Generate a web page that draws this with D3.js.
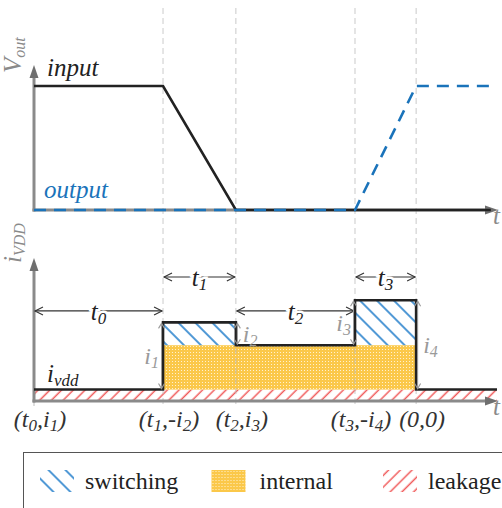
<!DOCTYPE html>
<html>
<head>
<meta charset="utf-8">
<script src="https://cdn.jsdelivr.net/npm/d3@7"></script>
<style>
  body { margin: 0; background: #fff; }
  svg { display: block; }
  svg text, svg tspan { font-family: 'Liberation Serif', 'Tinos', serif !important; }
</style>
</head>
<body>
<svg id="chart" width="502" height="508"></svg>
<script>
// time axis (arbitrary units)
var eventTimes = [0, 2.09, 3.27, 5.2, 6.19];
var tMax = 7.5;
var tickLabels = ["(t_0,i_1)", "(t_1,-i_2)", "(t_2,i_3)", "(t_3,-i_4)", "(0,0)"];

// top panel: voltages, 0..1
var inputWave = [[0, 1], [2.09, 1], [3.27, 0], [7.4, 0]];
var outputWave = [[0, 0], [5.2, 0], [6.19, 1], [7.4, 1]];

// bottom panel: supply current
var ivddSteps = [[0, 0.8], [2.09, 5.5], [3.27, 3.9], [5.2, 7.05], [6.19, 0.8], [7.5, 0.8]];
var leakageLevel = 0.8;
var internalSpan = [2.09, 6.19, 3.9];             // from, to, top
var switchingBlocks = [[2.09, 3.27, 5.5], [5.2, 6.19, 7.05]];  // from, to, peak
var spanArrows = [
  {label: "t_0", from: 0, to: 2.09, level: 6.3},
  {label: "t_1", from: 2.09, to: 3.27, level: 8.67},
  {label: "t_2", from: 3.27, to: 5.2, level: 6.3},
  {label: "t_3", from: 5.2, to: 6.19, level: 8.67}
];
var deltaArrows = [
  {label: "i_1", t: 2.09, lo: 0.8, hi: 5.5, side: "left"},
  {label: "i_2", t: 3.27, lo: 3.9, hi: 5.5, side: "right"},
  {label: "i_3", t: 5.2, lo: 3.9, hi: 7.05, side: "left"},
  {label: "i_4", t: 6.19, lo: 0.8, hi: 7.05, side: "right"}
];
var legendItems = [
  {name: "switching", fill: "url(#pSwitch)"},
  {name: "internal", fill: "url(#pInternal)"},
  {name: "leakage", fill: "url(#pLeak)"}
];

var svg = d3.select("#chart");
var axisGray = "#8a8a8a", headGray = "#6f6f6f";

var x = d3.scaleLinear().domain([0, tMax]).range([34, 497]);
var yV = d3.scaleLinear().domain([0, 1]).range([210, 86]);
var yI = d3.scaleLinear().domain([0, 10]).range([401, 258]);

// patterns
var defs = svg.append("defs");
var ps = defs.append("pattern").attr("id", "pSwitch")
    .attr("patternUnits", "userSpaceOnUse").attr("width", 12).attr("height", 12)
    .attr("patternTransform", "rotate(-45)");
ps.append("line").attr("x1", 6).attr("y1", 0).attr("x2", 6).attr("y2", 12)
    .attr("stroke", "#3f8fd2").attr("stroke-width", 1.8);
var pi = defs.append("pattern").attr("id", "pInternal")
    .attr("patternUnits", "userSpaceOnUse").attr("width", 3).attr("height", 3);
pi.append("rect").attr("width", 3).attr("height", 3).attr("fill", "#fbc84a");
pi.append("rect").attr("x", 1).attr("y", 1).attr("width", 1).attr("height", 1).attr("fill", "#fff1cf");
var pl = defs.append("pattern").attr("id", "pLeak")
    .attr("patternUnits", "userSpaceOnUse").attr("width", 8.3).attr("height", 8.3)
    .attr("patternTransform", "rotate(45)");
pl.append("line").attr("x1", 4).attr("y1", 0).attr("x2", 4).attr("y2", 8.3)
    .attr("stroke", "#f05a5a").attr("stroke-width", 1.5);

function marker(id, color, len, half) {
  defs.append("marker").attr("id", id)
      .attr("viewBox", "-1 -6 12 12").attr("refX", len).attr("refY", 0)
      .attr("markerUnits", "userSpaceOnUse")
      .attr("markerWidth", 12).attr("markerHeight", 12)
      .attr("orient", "auto-start-reverse")
    .append("path")
      .attr("d", "M0," + (-half) + "L" + len + ",0L0," + half)
      .attr("fill", "none").attr("stroke", color).attr("stroke-width", 1.1);
}
marker("mSpan", "#333", 8, 4);
marker("mDelta", "#9a9a9a", 5, 3);

function mathText(t, str, sub) {
  var parts = str.split(/_(\w+)/);
  var shift = 0;
  parts.forEach(function(p, i) {
    if (!p) return;
    var ts = t.append("tspan").text(p);
    if (i % 2) { ts.style("font-size", sub + "px").attr("dy", 4 - shift); shift = 4; }
    else { ts.attr("dy", -shift); shift = 0; }
  });
  return t;
}

function label(px, py, size, color, italic) {
  return svg.append("text").attr("x", px).attr("y", py)
      .style("font-size", size + "px")
      .style("font-style", italic ? "italic" : "normal").attr("fill", color);
}

function arrowHead(cx, cy, dir) {
  // filled triangle, dir "up" or "right", tip at (cx,cy)
  var p = dir === "up"
    ? [[cx, cy], [cx - 4.5, cy + 13], [cx + 4.5, cy + 13]]
    : [[cx, cy], [cx - 13, cy - 4.5], [cx - 13, cy + 4.5]];
  svg.append("path").attr("d", "M" + p.join("L") + "Z").attr("fill", headGray);
}

// ---- bottom panel fills ----
svg.append("rect")
    .attr("x", x(0)).attr("width", x(tMax) - x(0))
    .attr("y", yI(leakageLevel)).attr("height", yI(0) - yI(leakageLevel))
    .attr("fill", "url(#pLeak)");
svg.append("rect")
    .attr("x", x(internalSpan[0])).attr("width", x(internalSpan[1]) - x(internalSpan[0]))
    .attr("y", yI(internalSpan[2])).attr("height", yI(leakageLevel) - yI(internalSpan[2]))
    .attr("fill", "url(#pInternal)");
svg.selectAll(".sw").data(switchingBlocks).enter().append("rect")
    .attr("class", "sw")
    .attr("x", d => x(d[0])).attr("width", d => x(d[1]) - x(d[0]))
    .attr("y", d => yI(d[2])).attr("height", d => yI(internalSpan[2]) - yI(d[2]))
    .attr("fill", "url(#pSwitch)");

// ---- guides ----
svg.selectAll(".guide").data(eventTimes.slice(1)).enter().append("line")
    .attr("class", "guide")
    .attr("x1", d => x(d)).attr("x2", d => x(d))
    .attr("y1", 8).attr("y2", 405)
    .attr("stroke", "#bdbdbd").attr("stroke-opacity", 0.8)
    .attr("stroke-width", 1).attr("stroke-dasharray", "6,4");
svg.append("line").attr("x1", x(0)).attr("x2", x(0)).attr("y1", yI(0)).attr("y2", 406)
    .attr("stroke", "#bdbdbd").attr("stroke-width", 1);

// ---- axes ----
[[yV, 1.17, "V_out", 8], [yI, 10, "i_VDD", 5]].forEach(function(a) {
  var sc = a[0];
  svg.append("line").attr("x1", x(0)).attr("x2", x(0))
      .attr("y1", sc(0) + 1.5).attr("y2", sc(a[1]) + 10)
      .attr("stroke", axisGray).attr("stroke-width", 3);
  arrowHead(x(0), sc(a[1]), "up");
  svg.append("line").attr("x1", x(0) - 1.5).attr("x2", x(tMax) - 8)
      .attr("y1", sc(0)).attr("y2", sc(0))
      .attr("stroke", axisGray).attr("stroke-width", 3);
  arrowHead(x(tMax) + 1, sc(0), "right");
  label(x(tMax) - 4, sc(0) + 14, 25, "#8a8a8a", true).text("t");
  mathText(label(0, 0, 25, "#8a8a8a", true)
      .attr("transform", "translate(21," + (sc(a[1]) + a[3]) + ") rotate(-90)"), a[2], 16);
});

// ---- top panel waves ----
var lineV = d3.line().x(d => x(d[0])).y(d => yV(d[1]));
svg.append("path").attr("d", lineV(inputWave))
    .attr("fill", "none").attr("stroke", "#222").attr("stroke-width", 2.6);
svg.append("path").attr("d", lineV(outputWave))
    .attr("fill", "none").attr("stroke", "#1a73ba").attr("stroke-width", 2.6)
    .attr("stroke-dasharray", "12,8");
label(47, 76, 25, "#222", true).text("input");
label(44, 198, 25, "#1a73ba", true).text("output");

// ---- bottom panel step ----
svg.append("path")
    .attr("d", d3.line().x(d => x(d[0])).y(d => yI(d[1])).curve(d3.curveStepAfter)(ivddSteps))
    .attr("fill", "none").attr("stroke", "#222").attr("stroke-width", 2.6);
mathText(label(47, 382, 25, "#222", true), "i_vdd", 17);

// span arrows
var sp = svg.selectAll(".span").data(spanArrows).enter().append("g").attr("class", "span");
sp.append("line")
    .attr("x1", d => x(d.from) + 1).attr("x2", d => x(d.to) - 1)
    .attr("y1", d => yI(d.level)).attr("y2", d => yI(d.level))
    .attr("stroke", "#333").attr("stroke-width", 1.1)
    .attr("marker-start", "url(#mSpan)").attr("marker-end", "url(#mSpan)");
sp.append("text")
    .attr("x", d => (x(d.from) + x(d.to)) / 2).attr("y", d => yI(d.level) + 9)
    .attr("text-anchor", "middle")
    .style("font-style", "italic").style("font-size", "25px")
    .attr("fill", "#222").attr("stroke", "#fff").attr("stroke-width", 5)
    .attr("paint-order", "stroke")
    .each(function(d) { mathText(d3.select(this), d.label, 17); });

// delta arrows
var dl = svg.selectAll(".delta").data(deltaArrows).enter().append("g").attr("class", "delta");
dl.append("line")
    .attr("x1", d => x(d.t) + (d.side === "left" ? -1.5 : 1.5))
    .attr("x2", d => x(d.t) + (d.side === "left" ? -1.5 : 1.5))
    .attr("y1", d => yI(d.hi) + 1).attr("y2", d => yI(d.lo) - 1)
    .attr("stroke", "#9a9a9a").attr("stroke-width", 1)
    .attr("marker-start", "url(#mDelta)").attr("marker-end", "url(#mDelta)");
dl.append("text")
    .attr("x", d => x(d.t) + (d.side === "left" ? -4 : 7))
    .attr("y", d => (yI(d.hi) + yI(d.lo)) / 2 + 8)
    .attr("text-anchor", d => d.side === "left" ? "end" : "start")
    .style("font-style", "italic").style("font-size", "24px")
    .attr("fill", "#9a9a9a")
    .each(function(d) { mathText(d3.select(this), d.label, 16); });

// tick labels
svg.selectAll(".tick").data(eventTimes).enter().append("text")
    .attr("class", "tick")
    .attr("x", d => x(d) + 6).attr("y", 427)
    .attr("text-anchor", "middle")
    .style("font-style", "italic").style("font-size", "24px")
    .attr("fill", "#333")
    .each(function(d, i) { mathText(d3.select(this), tickLabels[i], 17); });

// ---- legend ----
svg.append("rect").attr("x", 23.5).attr("y", 452.5).attr("width", 500).attr("height", 80)
    .attr("fill", "#fff").attr("stroke", "#555").attr("stroke-width", 1);
var lx = d3.scalePoint().domain(legendItems.map(d => d.name)).range([40, 383]);
var lg = svg.selectAll(".leg").data(legendItems).enter().append("g").attr("class", "leg")
    .attr("transform", d => "translate(" + lx(d.name) + ",470)");
lg.append("rect").attr("width", 34).attr("height", 22).attr("fill", d => d.fill);
lg.append("text").attr("x", d => d.name === "internal" ? 48 : 45).attr("y", 19)
    .style("font-size", "24px").attr("fill", "#222")
    .text(d => d.name);
</script>
</body>
</html>
